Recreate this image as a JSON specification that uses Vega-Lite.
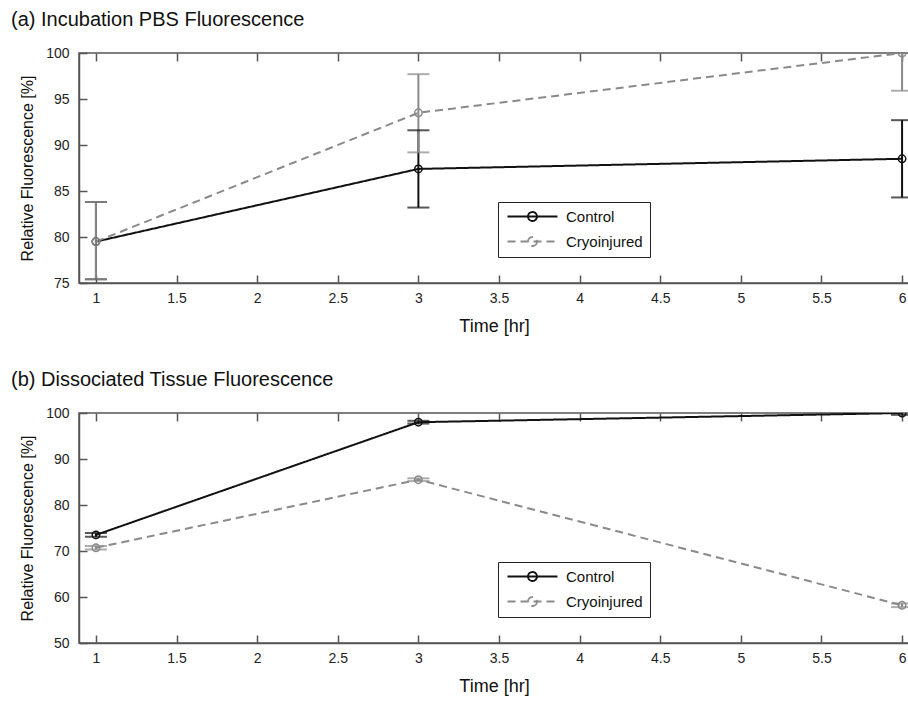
{
  "$schema": "https://vega.github.io/schema/vega-lite/v6.json",
  "padding": {"left": 10, "top": 9, "right": 0, "bottom": 4},
  "background": "white",
  "config": {
    "font": "Liberation Sans",
    "view": {"stroke": "#555", "strokeWidth": 1.5},
    "axis": {
      "grid": false,
      "domainColor": "#555",
      "domainWidth": 1.5,
      "tickColor": "#555",
      "tickWidth": 1.5,
      "tickSize": -8,
      "labelFont": "Liberation Sans",
      "labelFontSize": 14,
      "labelColor": "#222",
      "titleFont": "Liberation Sans",
      "titleFontSize": 16,
      "titleFontWeight": "normal",
      "titleColor": "#111"
    },
    "axisX": {"titleFontSize": 18},
    "title": {"font": "Liberation Sans", "fontSize": 20, "fontWeight": "normal", "anchor": "start", "color": "#111", "frame": "group"},
    "legend": {
      "orient": "none",
      "legendX": 419,
      "legendY": 149,
      "strokeColor": "#222",
      "padding": 7,
      "title": null,
      "labelFont": "Liberation Sans",
      "labelFontSize": 15,
      "labelColor": "#111",
      "symbolSize": 100,
      "symbolType": "M-1,0H9M4.9,0A0.9,0.9,0,1,1,3.1,0A0.9,0.9,0,1,1,4.9,0",
      "symbolStrokeWidth": 1.8,
      "symbolFillColor": "transparent",
      "labelOffset": 46,
      "rowPadding": 8
    }
  },
  "datasets": {
    "d": [
      {"panel": "a", "group": "Control", "time": 1, "value": 79.5, "lo": 75.4, "hi": 83.8},
      {"panel": "a", "group": "Control", "time": 3, "value": 87.4, "lo": 83.2, "hi": 91.6},
      {"panel": "a", "group": "Control", "time": 6, "value": 88.5, "lo": 84.3, "hi": 92.7},
      {"panel": "a", "group": "Cryoinjured", "time": 1, "value": 79.5, "lo": 75.4, "hi": 83.8},
      {"panel": "a", "group": "Cryoinjured", "time": 3, "value": 93.5, "lo": 89.2, "hi": 97.7},
      {"panel": "a", "group": "Cryoinjured", "time": 6, "value": 100.0, "lo": 95.9, "hi": 104.1},
      {"panel": "b", "group": "Control", "time": 1, "value": 73.5, "lo": 73.1, "hi": 73.9},
      {"panel": "b", "group": "Control", "time": 3, "value": 98.0, "lo": 97.7, "hi": 98.3},
      {"panel": "b", "group": "Control", "time": 6, "value": 100.0, "lo": 99.6, "hi": 100.4},
      {"panel": "b", "group": "Cryoinjured", "time": 1, "value": 70.7, "lo": 70.3, "hi": 71.1},
      {"panel": "b", "group": "Cryoinjured", "time": 3, "value": 85.5, "lo": 85.2, "hi": 85.8},
      {"panel": "b", "group": "Cryoinjured", "time": 6, "value": 58.2, "lo": 57.8, "hi": 58.6}
    ]
  },
  "spacing": 33,
  "resolve": {"legend": {"color": "independent", "strokeDash": "independent"}},
  "vconcat": [
    {
      "width": 830,
      "height": 230,
      "title": {"text": "(a) Incubation PBS Fluorescence", "dx": -68, "offset": 16},
      "data": {"name": "d"},
      "transform": [{"filter": "datum.panel == 'a'"}],
      "resolve": {"axis": {"x": "independent"}},
      "layer": [
        {"mark": {"type": "rule", "strokeWidth": 2, "clip": true},
          "encoding": {
            "x": {"field": "time", "type": "quantitative", "scale": {"domain": [0.895, 6.043], "nice": false, "zero": false},
              "axis": {"values": [1, 1.5, 2, 2.5, 3, 3.5, 4, 4.5, 5, 5.5, 6], "format": "~g", "title": "Time [hr]", "labelPadding": 16, "titlePadding": 12}},
            "y": {"field": "lo", "type": "quantitative", "scale": {"domain": [75, 100], "nice": false, "zero": false},
              "axis": {"values": [75, 80, 85, 90, 95, 100], "title": "Relative Fluorescence [%]", "labelPadding": 18, "titlePadding": 10}}, "y2": {"field": "hi"},
            "stroke": {"field": "group", "type": "nominal", "scale": {"domain": ["Control", "Cryoinjured"], "range": ["#111111", "#8a8a8a"]}, "legend": null}}},
        {"mark": {"type": "tick", "orient": "horizontal", "size": 22, "thickness": 2, "clip": true},
          "encoding": {"x": {"field": "time", "type": "quantitative", "axis": null}, "y": {"field": "lo", "type": "quantitative"},
            "fill": {"field": "group", "type": "nominal", "scale": {"domain": ["Control", "Cryoinjured"], "range": ["#111111", "#8a8a8a"]}, "legend": null}}},
        {"mark": {"type": "tick", "orient": "horizontal", "size": 22, "thickness": 2, "clip": true},
          "encoding": {"x": {"field": "time", "type": "quantitative", "axis": null}, "y": {"field": "hi", "type": "quantitative"},
            "fill": {"field": "group", "type": "nominal", "legend": null}}},
        {"mark": {"type": "line", "strokeWidth": 2, "clip": true},
          "encoding": {"x": {"field": "time", "type": "quantitative", "axis": null}, "y": {"field": "value", "type": "quantitative"},
            "color": {"field": "group", "type": "nominal", "scale": {"domain": ["Control", "Cryoinjured"], "range": ["#111111", "#8a8a8a"]}},
            "strokeDash": {"field": "group", "type": "nominal", "scale": {"domain": ["Control", "Cryoinjured"], "range": [[1, 0], [8, 5]]}}}},
        {"mark": {"type": "point", "filled": false, "size": 55, "strokeWidth": 1.5, "opacity": 1, "clip": true},
          "encoding": {"x": {"field": "time", "type": "quantitative", "axis": null}, "y": {"field": "value", "type": "quantitative"},
            "color": {"field": "group", "type": "nominal"}}},
        {"mark": {"type": "point", "opacity": 0},
          "encoding": {"x": {"field": "time", "type": "quantitative",
            "axis": {"orient": "top", "values": [1, 1.5, 2, 2.5, 3, 3.5, 4, 4.5, 5, 5.5, 6], "labels": false, "title": null, "domain": false}}}}
      ]
    },
    {
      "width": 830,
      "height": 230,
      "title": {"text": "(b) Dissociated Tissue Fluorescence", "dx": -68, "offset": 16},
      "data": {"name": "d"},
      "transform": [{"filter": "datum.panel == 'b'"}],
      "resolve": {"axis": {"x": "independent"}},
      "layer": [
        {"mark": {"type": "rule", "strokeWidth": 2, "clip": true},
          "encoding": {
            "x": {"field": "time", "type": "quantitative", "scale": {"domain": [0.895, 6.043], "nice": false, "zero": false},
              "axis": {"values": [1, 1.5, 2, 2.5, 3, 3.5, 4, 4.5, 5, 5.5, 6], "format": "~g", "title": "Time [hr]", "labelPadding": 16, "titlePadding": 12}},
            "y": {"field": "lo", "type": "quantitative", "scale": {"domain": [50, 100], "nice": false, "zero": false},
              "axis": {"values": [50, 60, 70, 80, 90, 100], "title": "Relative Fluorescence [%]", "labelPadding": 18, "titlePadding": 10}}, "y2": {"field": "hi"},
            "stroke": {"field": "group", "type": "nominal", "scale": {"domain": ["Control", "Cryoinjured"], "range": ["#111111", "#8a8a8a"]}, "legend": null}}},
        {"mark": {"type": "tick", "orient": "horizontal", "size": 22, "thickness": 2, "clip": true},
          "encoding": {"x": {"field": "time", "type": "quantitative", "axis": null}, "y": {"field": "lo", "type": "quantitative"},
            "fill": {"field": "group", "type": "nominal", "scale": {"domain": ["Control", "Cryoinjured"], "range": ["#111111", "#8a8a8a"]}, "legend": null}}},
        {"mark": {"type": "tick", "orient": "horizontal", "size": 22, "thickness": 2, "clip": true},
          "encoding": {"x": {"field": "time", "type": "quantitative", "axis": null}, "y": {"field": "hi", "type": "quantitative"},
            "fill": {"field": "group", "type": "nominal", "legend": null}}},
        {"mark": {"type": "line", "strokeWidth": 2, "clip": true},
          "encoding": {"x": {"field": "time", "type": "quantitative", "axis": null}, "y": {"field": "value", "type": "quantitative"},
            "color": {"field": "group", "type": "nominal", "scale": {"domain": ["Control", "Cryoinjured"], "range": ["#111111", "#8a8a8a"]}},
            "strokeDash": {"field": "group", "type": "nominal", "scale": {"domain": ["Control", "Cryoinjured"], "range": [[1, 0], [8, 5]]}}}},
        {"mark": {"type": "point", "filled": false, "size": 55, "strokeWidth": 1.5, "opacity": 1, "clip": true},
          "encoding": {"x": {"field": "time", "type": "quantitative", "axis": null}, "y": {"field": "value", "type": "quantitative"},
            "color": {"field": "group", "type": "nominal"}}},
        {"mark": {"type": "point", "opacity": 0},
          "encoding": {"x": {"field": "time", "type": "quantitative",
            "axis": {"orient": "top", "values": [1, 1.5, 2, 2.5, 3, 3.5, 4, 4.5, 5, 5.5, 6], "labels": false, "title": null, "domain": false}}}}
      ]
    }
  ]
}
